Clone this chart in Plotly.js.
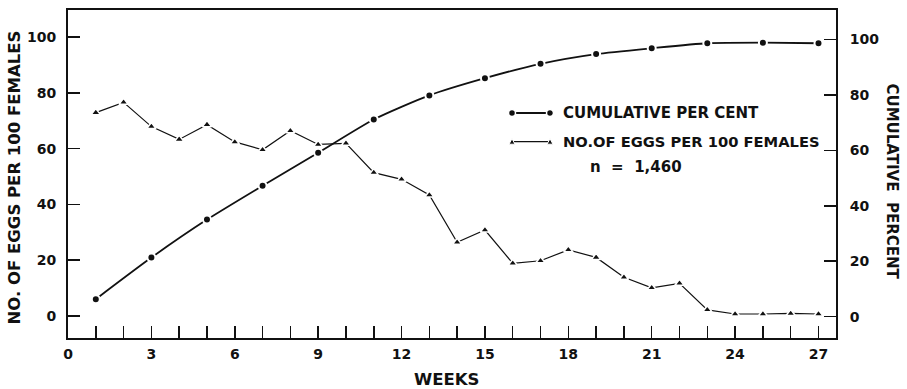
<!DOCTYPE html>
<html>
<head>
<meta charset="utf-8">
<script src="https://cdn.plot.ly/plotly-3.0.1.min.js"></script>
<style>html,body{margin:0;padding:0;background:#fff;}#chart{width:907px;height:389px;}</style>
</head>
<body>
<div id="chart"></div>
<script>
// Data
var eggWeeks = [1,2,3,4,5,6,7,8,9,10,11,12,13,14,15,16,17,18,19,20,21,22,23,24,25,26,27];
var eggsPer100Females = [72.9,76.6,67.9,63.3,68.6,62.4,59.6,66.4,61.5,61.9,51.4,49.0,43.4,26.4,30.8,18.9,19.8,23.7,21.0,13.9,10.1,11.7,2.2,0.7,0.7,0.9,0.7];
var cumWeeks = [1,3,5,7,9,11,13,15,17,19,21,23,25,27];
var cumulativePercent = [6.3,21.3,35.0,47.2,59.1,71.1,79.8,86.0,91.2,94.7,96.8,98.6,98.8,98.6];
var xTickVals = [0,1,2,3,4,5,6,7,8,9,10,11,12,13,14,15,16,17,18,19,20,21,22,23,24,25,26,27];
var xTickText = xTickVals.map(function(v){ return v % 3 === 0 ? String(v) : ''; });
var yTickVals = [0,20,40,60,80,100];
var legendCum = 'CUMULATIVE PER CENT';
var legendEggs = 'NO.OF EGGS PER 100 FEMALES';
var nLabel = 'n  =  1,460';

var FONT = 'DejaVu Sans, Arial, sans-serif';
var tickFont = {family: FONT, size: 14, color: '#111', weight: 700};

var traces = [
  {
    x: eggWeeks, y: eggsPer100Females, yaxis: 'y', type: 'scatter', mode: 'lines+markers',
    line: {color: '#111', width: 1.2},
    marker: {symbol: 'triangle-up', size: 8, color: '#111', line: {color: '#fff', width: 1.5}},
    showlegend: false, cliponaxis: false
  },
  {
    x: cumWeeks, y: cumulativePercent, yaxis: 'y2', type: 'scatter', mode: 'lines+markers',
    line: {color: '#111', width: 1.8, shape: 'spline', smoothing: 0.6},
    marker: {symbol: 'circle', size: 8, color: '#111', line: {color: '#fff', width: 2}},
    showlegend: false, cliponaxis: false
  }
];

function px2x(px){ return (px - 68) / 768; }
function px2y(py){ return (338 - py) / 328; }

var ly1 = px2y(113), ly2 = px2y(141.7);
var lxa = px2x(512), lxb = px2x(550);

var shapes = [
  {type: 'line', xref: 'paper', yref: 'paper', x0: lxa, x1: lxb, y0: ly1, y1: ly1, line: {color: '#111', width: 1.8}},
  {type: 'line', xref: 'paper', yref: 'paper', x0: lxa, x1: lxb, y0: ly2, y1: ly2, line: {color: '#111', width: 1.2}}
];
[lxa, lxb].forEach(function(ax){
  shapes.push({type: 'circle', xref: 'paper', yref: 'paper', xsizemode: 'pixel', ysizemode: 'pixel',
    xanchor: ax, yanchor: ly1, x0: -3.5, x1: 3.5, y0: -3.5, y1: 3.5,
    fillcolor: '#111', line: {color: '#fff', width: 1.5}});
  shapes.push({type: 'path', xref: 'paper', yref: 'paper', xsizemode: 'pixel', ysizemode: 'pixel',
    xanchor: ax, yanchor: ly2, path: 'M-3,-2.5 L3,-2.5 L0,3 Z',
    fillcolor: '#111', line: {color: '#fff', width: 1}});
});

var layout = {
  width: 907, height: 389,
  margin: {l: 68, r: 71, t: 10, b: 51, pad: 0},
  paper_bgcolor: '#fff', plot_bgcolor: '#fff',
  font: {family: FONT, color: '#111'},
  showlegend: false,
  xaxis: {
    range: [0, 27.63], tickvals: xTickVals, ticktext: xTickText,
    ticks: 'inside', ticklen: 12, tickwidth: 1.5, tickcolor: '#111',
    showline: true, linecolor: '#111', linewidth: 2, mirror: true,
    showgrid: false, zeroline: false, tickfont: tickFont, ticklabelstandoff: 2
  },
  yaxis: {
    range: [-7.9, 109.7], tickvals: yTickVals,
    ticks: 'inside', ticklen: 12, tickwidth: 1.5, tickcolor: '#111',
    showline: true, linecolor: '#111', linewidth: 2,
    showgrid: false, zeroline: false, tickfont: tickFont, ticklabelstandoff: 7
  },
  yaxis2: {
    overlaying: 'y', side: 'right',
    range: [-7.7, 110.6], tickvals: yTickVals,
    ticks: 'inside', ticklen: 12, tickwidth: 1.5, tickcolor: '#111',
    showline: true, linecolor: '#111', linewidth: 2,
    showgrid: false, zeroline: false, tickfont: tickFont, ticklabelstandoff: 9
  },
  shapes: shapes,
  annotations: [
    {text: 'NO. OF EGGS PER 100 FEMALES', xref: 'paper', yref: 'paper', x: px2x(14), y: px2y(177.5),
     textangle: -90, showarrow: false, xanchor: 'center', yanchor: 'middle',
     font: {family: FONT, size: 16.5, color: '#111', weight: 700}},
    {text: 'CUMULATIVE  PERCENT', xref: 'paper', yref: 'paper', x: px2x(892), y: px2y(181.5),
     textangle: 90, showarrow: false, xanchor: 'center', yanchor: 'middle',
     font: {family: FONT, size: 15, color: '#111', weight: 700}},
    {text: 'WEEKS', xref: 'paper', yref: 'paper', x: px2x(446), y: px2y(380),
     showarrow: false, xanchor: 'center', yanchor: 'middle',
     font: {family: FONT, size: 16.5, color: '#111', weight: 700}},
    {text: legendCum, xref: 'paper', yref: 'paper', x: px2x(561), y: ly1,
     showarrow: false, xanchor: 'left', yanchor: 'middle',
     font: {family: FONT, size: 15, color: '#111', weight: 700}},
    {text: legendEggs, xref: 'paper', yref: 'paper', x: px2x(561), y: ly2,
     showarrow: false, xanchor: 'left', yanchor: 'middle',
     font: {family: FONT, size: 14.7, color: '#111', weight: 700}},
    {text: nLabel, xref: 'paper', yref: 'paper', x: px2x(636), y: px2y(166.7),
     showarrow: false, xanchor: 'center', yanchor: 'middle',
     font: {family: FONT, size: 15, color: '#111', weight: 700}}
  ]
};

Plotly.newPlot('chart', traces, layout, {staticPlot: true, displayModeBar: false});
</script>
</body>
</html>
